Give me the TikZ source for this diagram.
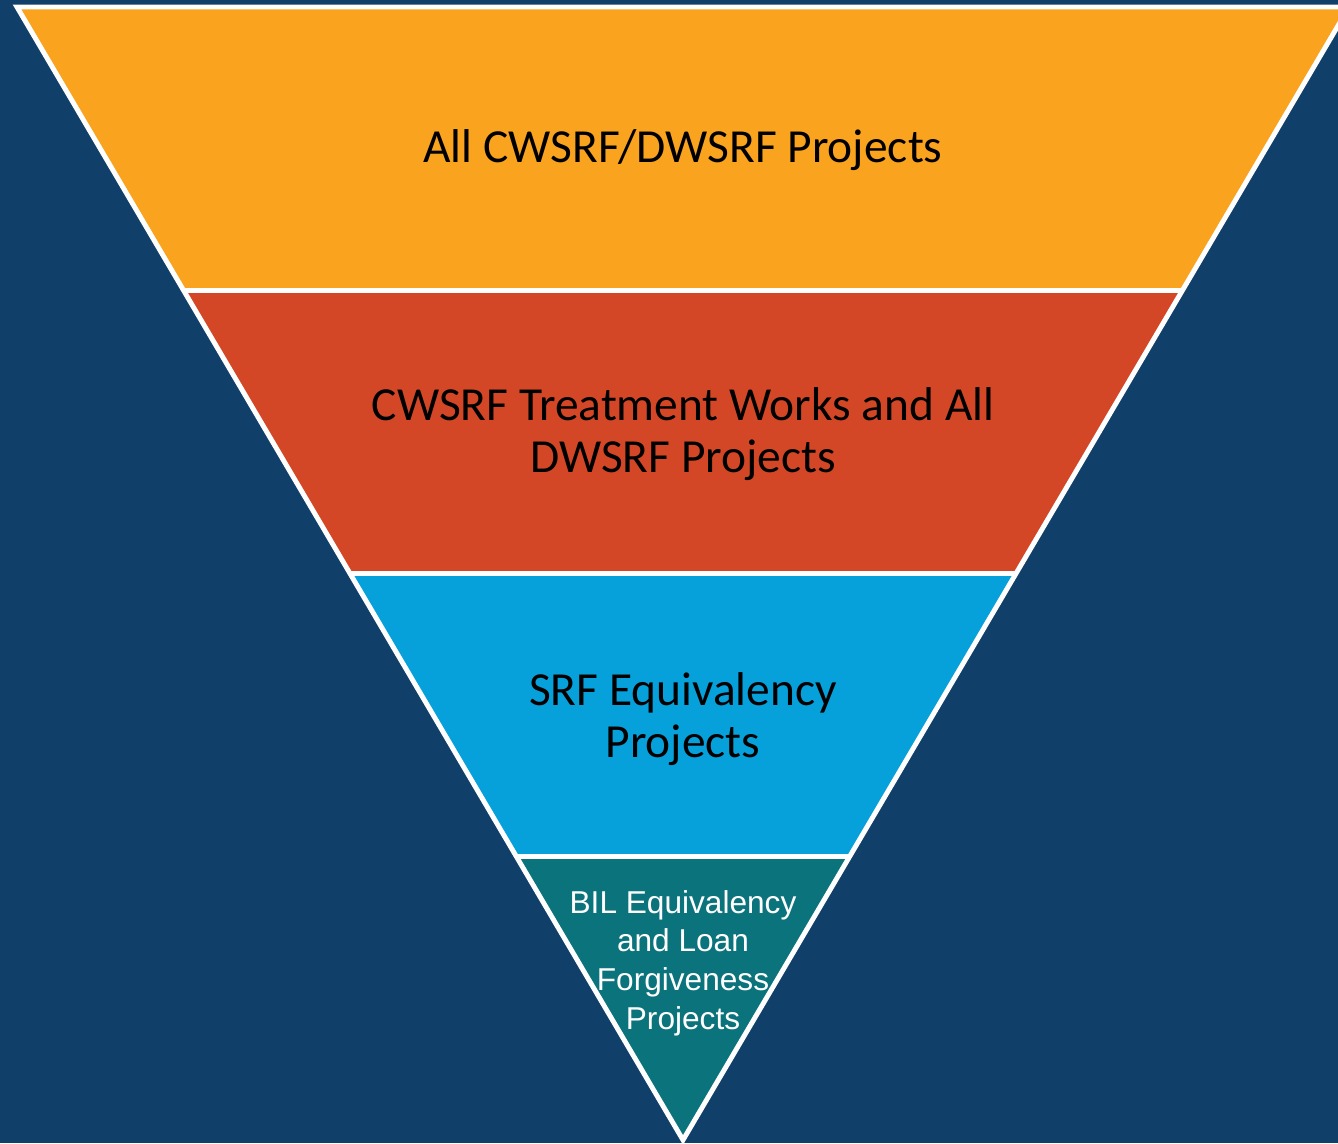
\documentclass[tikz,border=0pt]{standalone}
\usepackage{fontspec}
\setmainfont{Carlito}
\newfontfamily\arialfont{Liberation Sans}
\usetikzlibrary{calc,positioning}
\definecolor{navybg}{HTML}{103F6A}
\definecolor{bandorange}{HTML}{F9A31F}
\definecolor{bandred}{HTML}{D34727}
\definecolor{bandblue}{HTML}{06A0DB}
\definecolor{bandteal}{HTML}{0B737C}
\tikzset{
    %Define style for band labels
    bandtext/.style={
           text=black,
           font=\fontsize{27}{30}\selectfont,
           align=center},
    % Define style for the white rims
    rim/.style={
           draw=white,
           line width=2.8pt,
           line join=miter}
}
\begin{document}
\begin{tikzpicture}[x=0.02cm, y=-0.02cm,
smalltext/.style={text=white, font=\arialfont\fontsize{18}{22}\selectfont, align=center}
]
\useasboundingbox (0,0) rectangle (1338,1143);
\fill[navybg] (0,0) rectangle (1338,1143);
%Corners
\coordinate (tl) at (17,7);
\coordinate (tr) at (1349,7);
\coordinate (apex) at (683,1140);
\coordinate (l1) at ($(tl)!0.25!(apex)$);
\coordinate (r1) at ($(tr)!0.25!(apex)$);
\coordinate (l2) at ($(tl)!0.5!(apex)$);
\coordinate (r2) at ($(tr)!0.5!(apex)$);
\coordinate (l3) at ($(tl)!0.75!(apex)$);
\coordinate (r3) at ($(tr)!0.75!(apex)$);
%Bands
\fill[bandorange] (tl) -- (tr) -- (r1) -- (l1) -- cycle;
\fill[bandred] (l1) -- (r1) -- (r2) -- (l2) -- cycle;
\fill[bandblue] (l2) -- (r2) -- (r3) -- (l3) -- cycle;
\fill[bandteal] (l3) -- (r3) -- (apex) -- cycle;
\draw[rim] (l1) -- (r1);
\draw[rim] (l2) -- (r2);
\draw[rim] (l3) -- (r3);
\draw[rim] (tl) -- (tr) -- (apex) -- cycle;
%Labels
\node[bandtext] (all) at (683,150) {All CWSRF/DWSRF Projects};
\node[bandtext] (works) at (683,434) {CWSRF Treatment Works and All\\DWSRF Projects};
\node[bandtext] (equiv) at (683,719) {SRF Equivalency\\Projects};
\node[smalltext] (bil) at (683,963) {BIL Equivalency\\and Loan\\Forgiveness\\Projects};
\end{tikzpicture}
\end{document}
